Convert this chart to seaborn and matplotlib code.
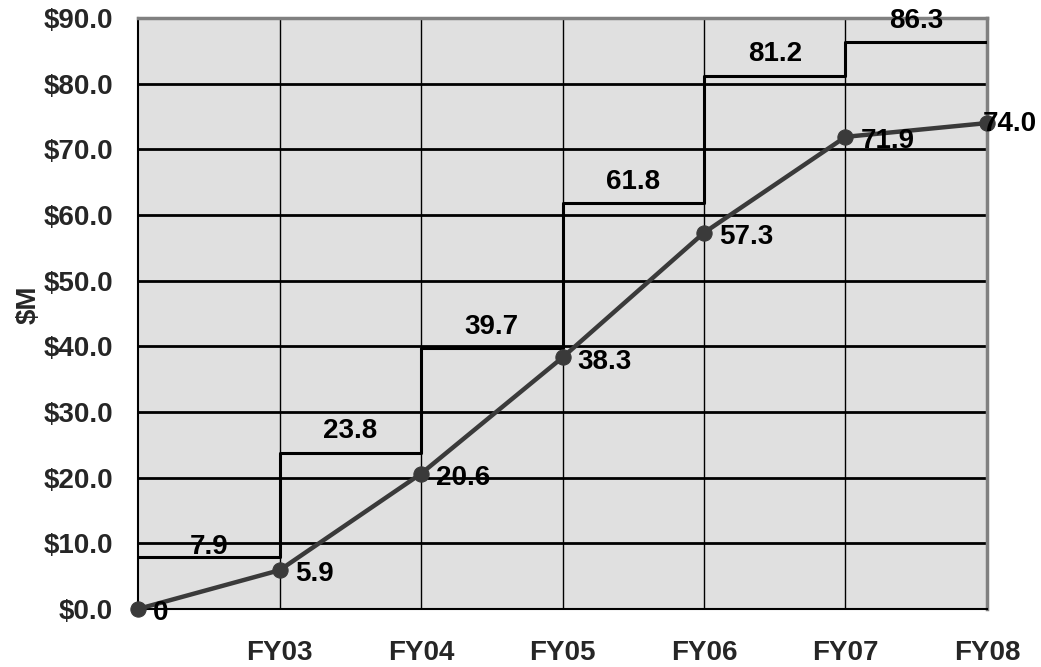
import matplotlib
matplotlib.use("Agg")
import matplotlib.pyplot as plt
import seaborn as sns
import pandas as pd

# ---- data ----
fiscal_years = ["", "FY03", "FY04", "FY05", "FY06", "FY07", "FY08"]
budget_steps = [7.9, 23.8, 39.7, 61.8, 81.2, 86.3]          # appropriated (step line)
actual_values = [0.0, 5.9, 20.6, 38.3, 57.3, 71.9, 74.0]    # cumulative actual (marker line)
actual_labels = ["0", "5.9", "20.6", "38.3", "57.3", "71.9", "74.0"]
y_ticks = [0, 10, 20, 30, 40, 50, 60, 70, 80, 90]

sns.set_theme(style="white")
plt.rcParams["font.family"] = ["Liberation Sans", "DejaVu Sans"]
plt.rcParams["font.weight"] = "bold"

FS = 20

fig = plt.figure(figsize=(10.41, 6.67), dpi=100)
ax = fig.add_axes([0.1326, 0.087, 0.8155, 0.886])
ax.set_facecolor("#e0e0e0")

x_pos = list(range(len(fiscal_years)))

# step line
step_df = pd.DataFrame({"x": x_pos, "y": budget_steps + [budget_steps[-1]]})
sns.lineplot(data=step_df, x="x", y="y", ax=ax, color="black", linewidth=2.2,
             drawstyle="steps-post", zorder=3)

# actual line
act_df = pd.DataFrame({"x": x_pos, "y": actual_values})
sns.lineplot(data=act_df, x="x", y="y", ax=ax, color="#3a3a3a", linewidth=3.2,
             marker="o", markersize=11, markeredgecolor="#3a3a3a",
             markerfacecolor="#3a3a3a", zorder=4, clip_on=False)

# step labels
for i, v in enumerate(budget_steps):
    off = 1.6 if i == 0 else 3.3
    ax.text(i + 0.5, v + off, f"{v:.1f}", ha="center", va="center",
            fontsize=FS, fontweight="bold", color="black", zorder=5)

# point labels
last = len(actual_values) - 1
for i, (v, lab) in enumerate(zip(actual_values, actual_labels)):
    off = (-3, -1) if i == last else (11, -3)
    ax.annotate(lab, (i, v), xytext=off, textcoords="offset points",
                ha="left", va="center", fontsize=FS, fontweight="bold",
                color="black", zorder=5, annotation_clip=False)

ax.set_xlim(0, 6)
ax.set_ylim(0, 90)
ax.set_xticks(x_pos)
ax.set_xticklabels(fiscal_years, fontsize=FS, fontweight="bold")
ax.set_yticks(y_ticks)
ax.set_yticklabels([f"${t:.1f}" for t in y_ticks], fontsize=FS, fontweight="bold")
ax.tick_params(axis="x", direction="out", length=8, width=1, color="black", pad=14)
ax.tick_params(axis="y", direction="out", length=8, width=1.2, color="#808080", pad=10)
ax.set_xlabel("")
ax.set_ylabel("$M", fontsize=FS, fontweight="bold")
ax.yaxis.set_label_coords(-0.113, 0.515)

# grid
for t in y_ticks[1:-1]:
    ax.axhline(t, color="black", linewidth=2, zorder=2)
for xx in x_pos[1:-1]:
    ax.axvline(xx, color="black", linewidth=1, zorder=2)

ax.spines["left"].set_color("black")
ax.spines["left"].set_linewidth(1.5)
ax.spines["bottom"].set_color("black")
ax.spines["bottom"].set_linewidth(1.5)
for s in ["top", "right"]:
    ax.spines[s].set_color("#808080")
    ax.spines[s].set_linewidth(2.5)

fig.savefig("out.png", dpi=100, facecolor="white")
